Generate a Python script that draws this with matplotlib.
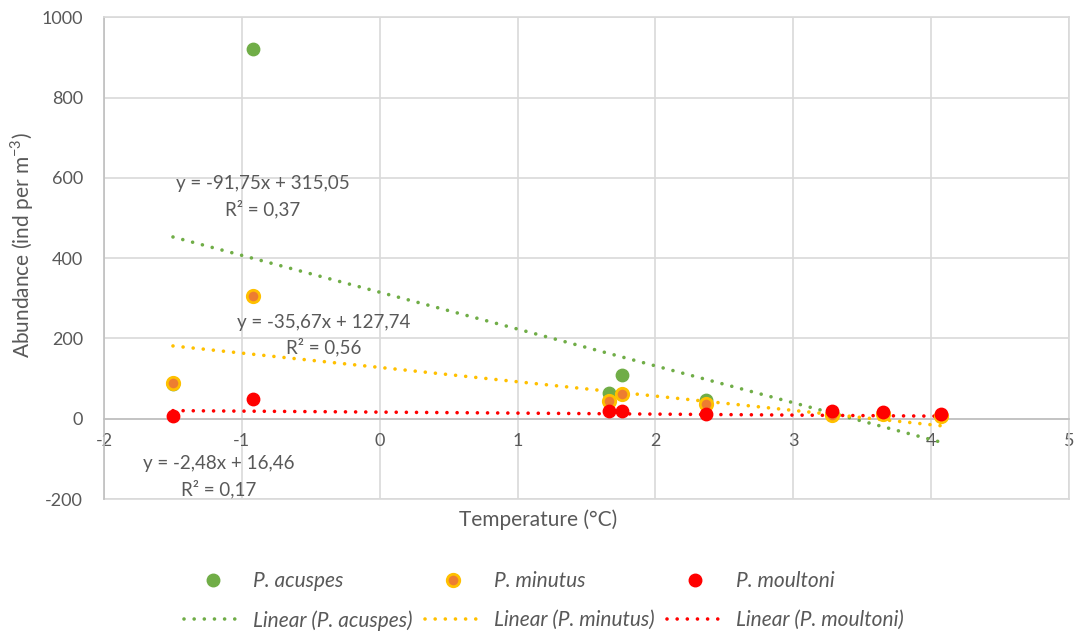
import numpy as np
import matplotlib.pyplot as plt
from matplotlib.lines import Line2D

plt.rcParams["font.family"] = ["Lato", "DejaVu Sans"]
plt.rcParams["axes.unicode_minus"] = False

# temperature (°C) at each station
temp = [-1.5, -0.92, 1.66, 1.76, 2.37, 3.28, 3.65, 4.07]

# abundance (ind per m3)
acuspes = [87, 922, 65, 110, 47, 15, 14, 8]
minutus = [90, 306, 45, 62, 37, 10, 12, 7]
moultoni = [8, 50, 18, 18, 13, 20, 17, 12]

# linear fits (slope, intercept, R2)
fits = {
    "acuspes": (-91.75, 315.05, 0.37),
    "minutus": (-35.67, 127.74, 0.56),
    "moultoni": (-2.48, 16.46, 0.17),
}

GREEN = "#70ad47"
ORANGE = "#ed7d31"
GOLD = "#ffc000"
RED = "#ff0000"
TEXT = "#595959"
GRID = "#d9d9d9"

fig = plt.figure(figsize=(10.77, 6.37), dpi=100)
ax = fig.add_axes([0.0966, 0.2166, 0.896, 0.7564])

x_fit = np.array([min(temp), max(temp)])
dots = (0, (0.01, 2.8))
line_colors = {"acuspes": GREEN, "minutus": GOLD, "moultoni": RED}
lines = {}
for name, (m, b, r2) in fits.items():
    ln, = ax.plot(x_fit, m * x_fit + b, color=line_colors[name],
                  linestyle=dots, linewidth=2.6, dash_capstyle="round",
                  zorder=3)
    lines[name] = ln

sc1 = ax.scatter(temp, acuspes, s=80, color=GREEN, zorder=4)
sc2 = ax.scatter(temp, minutus, s=80, color=ORANGE, edgecolors=GOLD,
                 linewidths=2, zorder=4)
sc3 = ax.scatter(temp, moultoni, s=80, color=RED, zorder=4)

# equation labels
eq_pos = {
    "acuspes": (-0.85, 585, 523),
    "minutus": (-0.41, 239, 178),
    "moultoni": (-1.17, -112, -174),
}
for name, (m, b, r2) in fits.items():
    xt, y1, y2 = eq_pos[name]
    eq = "y = {}x + {}".format(f"{m:.2f}".replace(".", ","),
                               f"{b:.2f}".replace(".", ","))
    ax.text(xt, y1, eq, ha="center", va="center", fontsize=13.5, color=TEXT,
            zorder=5)
    ax.text(xt, y2, "R² = " + f"{r2:.2f}".replace(".", ","), ha="center",
            va="center", fontsize=13.5, color=TEXT, zorder=5)

ax.set_xlim(-2, 5)
ax.set_ylim(-200, 1000)
ax.set_xticks(range(-2, 6))
ax.set_yticks(range(-200, 1001, 200))
ax.grid(True, color=GRID, linewidth=1.2, zorder=0)
ax.set_axisbelow(True)

ax.spines["bottom"].set_position(("data", 0))
ax.spines["bottom"].set_color("#bfbfbf")
ax.spines["left"].set_color("#bfbfbf")
ax.spines["top"].set_color(GRID)
ax.spines["right"].set_color(GRID)
for sp in ax.spines.values():
    sp.set_linewidth(1.2)
ax.tick_params(length=0, labelsize=13, labelcolor=TEXT)
ax.tick_params(axis="x", pad=10)
ax.tick_params(axis="y", pad=15)
ax.axhline(-200, color=GRID, linewidth=1.2, zorder=0, clip_on=False)

fig.text(0.5, 1 - 520 / 637, "Temperature (°C)", ha="center", va="center",
         fontsize=15, color=TEXT)
fig.text(22 / 1077, 1 - 245 / 637, "Abundance (ind per m$^{\\mathregular{-3}}$)",
         rotation=90, ha="center", va="center", fontsize=15, color=TEXT)

handles = [
    Line2D([], [], marker="o", linestyle="none", markersize=9, color=GREEN),
    lines["acuspes"],
    Line2D([], [], marker="o", linestyle="none", markersize=9,
           markerfacecolor=ORANGE, markeredgecolor=GOLD, markeredgewidth=2),
    lines["minutus"],
    Line2D([], [], marker="o", linestyle="none", markersize=9, color=RED),
    lines["moultoni"],
]
labels = [
    "P. acuspes", "Linear (P. acuspes)",
    "P. minutus", "Linear (P. minutus)",
    "P. moultoni", "Linear (P. moultoni)",
]
leg = fig.legend(handles, labels, ncol=3, loc="center",
                 bbox_to_anchor=(544 / 1077, 1 - 601 / 637), frameon=False,
                 fontsize=15, handlelength=2.7, columnspacing=0.6,
                 labelspacing=0.9, handletextpad=0.6)
for t in leg.get_texts():
    t.set_color(TEXT)
    t.set_fontstyle("italic")

fig.savefig("out.png", dpi=100)
